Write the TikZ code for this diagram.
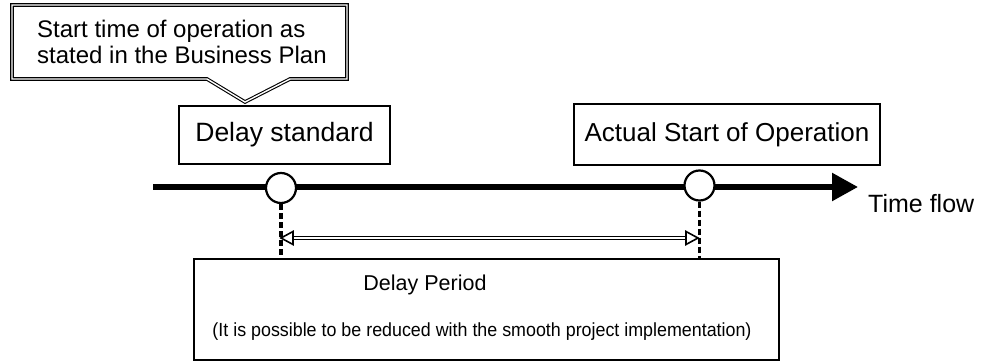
\documentclass[tikz,border=0pt]{standalone}
\usepackage{fontspec}
\usepackage{graphicx}
\setmainfont{Liberation Sans}
\usetikzlibrary{arrows.meta,calc}
\begin{document}
\begin{tikzpicture}[x=1pt,y=-1pt,
  label box/.style={draw,line width=1.6pt,inner sep=0pt,fill=white},
  marker/.style={circle,draw,line width=2.2pt,fill=white,minimum size=30pt,inner sep=0pt},
  guide/.style={line width=3.2pt,dash pattern=on 6pt off 3pt},
  twin/.style={draw,double,double distance=1.4pt,line width=1.1pt,line join=miter},
  open tip/.style={draw,line width=1.6pt,fill=white,line join=miter}]
\useasboundingbox (0,0) rectangle (986,363);

% callout with a pointer towards the delay standard
\draw[twin] (12,5) -- (347,5) -- (347,79) -- (290,79) -- (245,102) -- (207,79) -- (12,79) -- cycle;
\node[anchor=base west, align=left, inner sep=0pt, font=\fontsize{24}{26}\selectfont] (plan) at (37,64)
  {Start time of operation as\\stated in the Business Plan};

% time axis
\coordinate (t0) at (153,187);
\coordinate (t1) at (858,187);
\draw[line width=5.5pt, -{Triangle[length=26pt,width=27pt]}] (t0) -- (t1);
\node[anchor=base west, inner sep=0pt, font=\fontsize{25}{28}\selectfont] (flow) at (868,213) {Time flow};

% milestone markers
\node[marker] (c1) at (281,188) {};
\node[marker] (c2) at (699.5,185.5) {};

% milestone labels
\node[label box, minimum width=211pt, minimum height=58pt, font=\fontsize{26.5}{30}\selectfont] (std) at (284.5,135) {Delay standard};
\node[label box, line width=2pt, minimum width=306pt, minimum height=61pt, font=\fontsize{26}{30}\selectfont] (act) at (727,134.5) {Actual Start of Operation};

% delay period box
\node[draw, line width=2.4pt, minimum width=585pt, minimum height=101pt, inner sep=0pt] (per) at (486.5,309.5) {};
\node[anchor=base, inner sep=0pt, font=\fontsize{21.5}{24}\selectfont] (pertitle) at (425,291) {Delay Period};
\node[anchor=base, inner sep=0pt, font=\fontsize{19}{22}\selectfont] (pernote) at (482,337)
  {\scalebox{0.94}[1]{(It is possible to be reduced with the smooth project implementation)}};

% two-headed span between the milestones
\coordinate (span) at (0,238);
\coordinate (pl) at (c1 |- span);
\coordinate (pr) at ([xshift=-1.5pt]c2 |- span);
\draw[twin] ($(pl)+(12,0)$) -- ($(pr)+(-12,0)$);
\draw[open tip] (pl) -- ++(12,-6.5) -- ++(0,13) -- cycle;
\draw[open tip] (pr) -- ++(-12,-6.5) -- ++(0,13) -- cycle;

% dashed guides from the markers down to the box
\draw[guide] (c1.south) -- (c1.south |- per.north);
\draw[guide] (c2.south) -- (c2.south |- per.north);
\end{tikzpicture}
\end{document}
